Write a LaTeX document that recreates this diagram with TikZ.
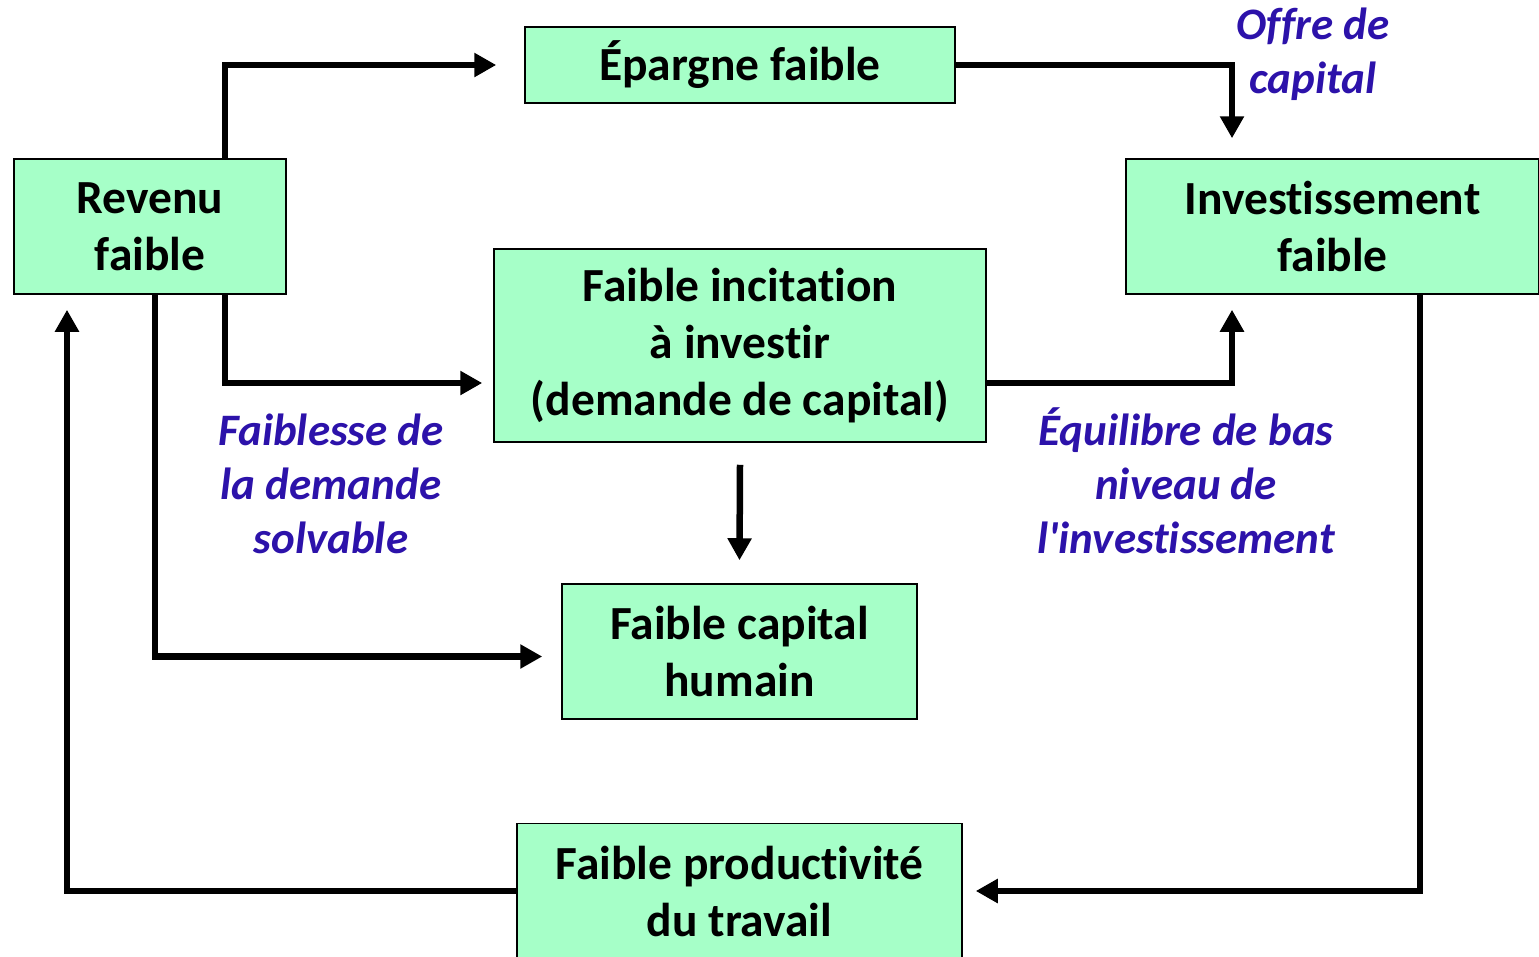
\documentclass[tikz,border=0pt]{standalone}
\usepackage{fontspec}
\setmainfont{Carlito}[Ligatures={NoCommon,TeXOff}]
\usetikzlibrary{arrows.meta}
\definecolor{boxfill}{RGB}{166,255,200}
\definecolor{labelblue}{RGB}{44,18,170}
\tikzset{
  box/.style={draw=black, line width=1.5pt, fill=boxfill, align=center,
    inner sep=0pt, font=\fontsize{47.5}{57}\selectfont\bfseries},
  note/.style={align=center, text=labelblue, inner sep=0pt,
    font=\fontsize{45}{54}\selectfont\bfseries\itshape},
  arr/.style={line width=6.5pt, -{Triangle[length=22pt,width=23pt]}}
}
\begin{document}
\begin{tikzpicture}[x=1pt,y=-1pt]
  \useasboundingbox (0,0) rectangle (1539,956);
  \begin{scope}
  \clip (0,0) rectangle (1539,956);
  % boxes
  \node[box, minimum width=272pt, minimum height=135pt] (rev) at (150,226.5) {Revenu\\faible};
  \node[box, minimum width=430pt, minimum height=76pt] (ep) at (740,65) {Épargne faible};
  \node[box, minimum width=413pt, minimum height=135pt] (inv) at (1332.5,226.5) {Investissement\\faible};
  \node[box, minimum width=492pt, minimum height=193pt] (inc) at (740,345.5) {Faible incitation\\à investir\\(demande de capital)};
  \node[box, minimum width=355pt, minimum height=135pt] (cap) at (739.5,651.5) {Faible capital\\humain};
  \node[box, minimum width=445pt, minimum height=135pt] (prod) at (739.5,891) {Faible productivité\\du travail};

  % annotations
  \node[note] (offre) at (1313,54) {Offre de\\capital};
  \node[note] (faib) at (331,484) {Faiblesse de\\la demande\\solvable};
  \node[note] (equi) at (1186,481) {Équilibre de bas\\niveau de\\l'investissement};

  % connectors
  \draw[arr] ([xshift=75pt]rev.north) |- ([xshift=-28pt]ep.west);
  \draw[arr] (ep.east) -| ([xshift=-100.5pt,yshift=20pt]inv.north);
  \draw[arr] ([xshift=75pt]rev.south) |- ([xshift=-11pt,yshift=-37.5pt]inc.west);
  \draw[arr] ([yshift=-37.5pt]inc.east) -| ([xshift=-100.5pt,yshift=-15pt]inv.south);
  \draw[arr] ([yshift=-22pt]inc.south) -- ([yshift=23pt]cap.north);
  \draw[arr] ([xshift=5pt]rev.south) |- ([xshift=-19pt,yshift=-5pt]cap.west);
  \draw[arr] ([xshift=87.5pt]inv.south) |- ([xshift=13pt]prod.east);
  \draw[arr] (prod.west) -| ([xshift=-83pt,yshift=-15pt]rev.south);
  \end{scope}
\end{tikzpicture}
\end{document}
